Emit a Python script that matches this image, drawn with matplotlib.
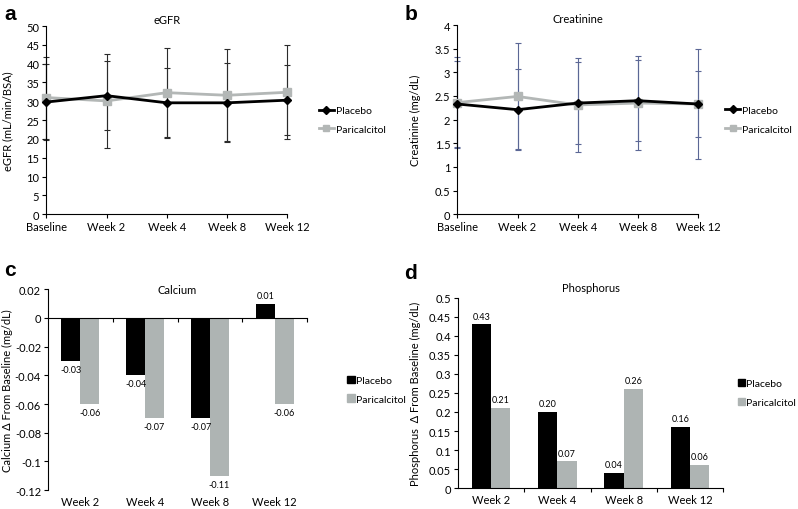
import numpy as np
from matplotlib import pyplot as plt
from matplotlib.patches import Patch
from matplotlib.lines import Line2D

plt.rcParams['font.family'] = ['Lato', 'DejaVu Sans']
plt.rcParams['font.size'] = 8

# line panels
visits = ["Baseline", "Week 2", "Week 4", "Week 8", "Week 12"]
egfr_placebo = [29.8, 31.5, 29.6, 29.6, 30.3]
egfr_placebo_err = [10.2, 9.2, 9.3, 10.5, 9.3]
egfr_pari = [31.0, 30.1, 32.3, 31.6, 32.4]
egfr_pari_err = [10.9, 12.6, 11.9, 12.2, 12.5]

creat_placebo = [2.33, 2.21, 2.35, 2.40, 2.33]
creat_placebo_err = [0.90, 0.86, 0.86, 0.85, 0.70]
creat_pari = [2.36, 2.49, 2.31, 2.35, 2.33]
creat_pari_err = [0.96, 1.12, 1.00, 1.00, 1.16]

# bar panels
weeks = ["Week 2", "Week 4", "Week 8", "Week 12"]
calcium_placebo = [-0.03, -0.04, -0.07, 0.01]
calcium_pari = [-0.06, -0.07, -0.11, -0.06]
phos_placebo = [0.43, 0.20, 0.04, 0.16]
phos_pari = [0.21, 0.07, 0.26, 0.06]

BLACK = "#000000"
GRAY = "#aeb4b3"
GRAY_LINE = "#b3b7b6"

fig = plt.figure(figsize=(7.98, 5.10), dpi=100)


def style_axes(ax):
    for s in ["top", "right"]:
        ax.spines[s].set_visible(False)
    ax.tick_params(direction="out", length=3, width=0.8, labelsize=8, pad=2)
    ax.spines["left"].set_linewidth(0.8)
    ax.spines["bottom"].set_linewidth(0.8)


def add_legend(ax, handles, x0, hl):
    ax.legend(handles, ["Placebo", "Paricalcitol"], frameon=False, fontsize=7.5,
              loc="center left", bbox_to_anchor=(x0, 0.5), handlelength=hl,
              handleheight=0.7, handletextpad=0.15, labelspacing=0.9,
              borderaxespad=0, borderpad=0)


def line_panel(rect, title, ylabel, p, pe, q, qe, ylim, yticks, ylabels, ecol, lx, ylx):
    ax = fig.add_axes(rect)
    x = np.arange(len(visits))
    ax.errorbar(x, p, yerr=pe, fmt="none", ecolor=ecol, elinewidth=0.8,
                capsize=2, capthick=0.8, zorder=2, clip_on=False)
    ax.errorbar(x, q, yerr=qe, fmt="none", ecolor=ecol, elinewidth=0.8,
                capsize=2, capthick=0.8, zorder=2, clip_on=False)
    ax.plot(x, p, color=BLACK, lw=2, marker="D", ms=4, zorder=4, clip_on=False)
    ax.plot(x, q, color=GRAY_LINE, lw=2, marker="s", ms=6, zorder=3, clip_on=False)
    ax.set_xlim(0, 4)
    ax.set_ylim(*ylim)
    ax.set_xticks(x)
    ax.set_xticklabels(visits)
    ax.set_yticks(yticks)
    ax.set_yticklabels(ylabels)
    ax.set_ylabel(ylabel, fontsize=8)
    ax.yaxis.set_label_coords(ylx, 0.5)
    ax.set_title(title, fontsize=8, pad=2)
    style_axes(ax)
    handles = [Line2D([], [], color=BLACK, lw=2, marker="D", ms=4),
               Line2D([], [], color=GRAY_LINE, lw=2, marker="s", ms=5)]
    add_legend(ax, handles, lx, 1.5)
    return ax


def bar_panel(rect, ylabel, p, q, ylim, yticks, ylabels, zero_axis, lx, ylx):
    ax = fig.add_axes(rect)
    x = np.arange(len(weeks))
    w = 0.29
    ax.bar(x - w / 2, p, width=w, color=BLACK, zorder=2)
    ax.bar(x + w / 2, q, width=w, color=GRAY, zorder=2)
    ax.set_xlim(-0.5, 3.5)
    ax.set_ylim(*ylim)
    ax.set_yticks(yticks)
    ax.set_yticklabels(ylabels)
    ax.set_ylabel(ylabel, fontsize=8)
    ax.yaxis.set_label_coords(ylx, 0.5)
    style_axes(ax)
    if zero_axis:
        ax.spines["bottom"].set_position(("data", 0))
    ax.set_xticks(np.arange(0.5, 4, 1))
    ax.set_xticklabels([])
    for i, lab in enumerate(weeks):
        ax.text(i, -0.03, lab, transform=ax.get_xaxis_transform(),
                ha="center", va="top", fontsize=8)
    span = ylim[1] - ylim[0]
    for xs, vals in [(x - w / 2, p), (x + w / 2, q)]:
        for xi, v in zip(xs, vals):
            if v >= 0:
                ax.text(xi, v + span * 0.02, f"{v:.2f}", ha="center",
                        va="bottom", fontsize=6.5)
            else:
                ax.text(xi, v - span * 0.02, f"{v:.2f}", ha="center",
                        va="top", fontsize=6.5)
    add_legend(ax, [Patch(color=BLACK), Patch(color=GRAY)], lx, 0.7)
    return ax


line_panel([0.058, 0.578, 0.302, 0.369], "eGFR", "eGFR (mL/min/BSA)",
           egfr_placebo, egfr_placebo_err, egfr_pari, egfr_pari_err,
           (0, 50), np.arange(0, 51, 5), [str(v) for v in range(0, 51, 5)],
           "#2b2b2b", 1.13, -0.135)
line_panel([0.573, 0.578, 0.302, 0.371], "Creatinine", "Creatinine (mg/dL)",
           creat_placebo, creat_placebo_err, creat_pari, creat_pari_err,
           (0, 4), np.arange(0, 4.01, 0.5),
           ["0", "0.5", "1", "1.5", "2", "2.5", "3", "3.5", "4"], "#5b6795",
           1.11, -0.15)

ax_c = bar_panel([0.060, 0.037, 0.325, 0.394], "Calcium \u0394 From Baseline (mg/dL)",
                 calcium_placebo, calcium_pari, (-0.12, 0.02),
                 np.arange(-0.12, 0.021, 0.02),
                 ["-0.12", "-0.1", "-0.08", "-0.06", "-0.04", "-0.02", "0", "0.02"],
                 True, 1.155, -0.135)
ax_c.text(0.5, 1.0, "Calcium", transform=ax_c.transAxes, ha="center", va="center", fontsize=8)

ax_d = bar_panel([0.574, 0.041, 0.332, 0.373], "Phosphorus  \u0394 From Baseline (mg/dL)",
                 phos_placebo, phos_pari, (0, 0.5),
                 np.arange(0, 0.501, 0.05),
                 ["0", "0.05", "0.1", "0.15", "0.2", "0.25", "0.3", "0.35", "0.4", "0.45", "0.5"],
                 False, 1.055, -0.14)
ax_d.set_title("Phosphorus", fontsize=8, pad=5)

for lab, (fx, fy) in zip("abcd", [(0.005, 0.971), (0.507, 0.971), (0.005, 0.469), (0.507, 0.463)]):
    fig.text(fx, fy, lab, fontsize=15, fontweight="bold", ha="left", va="center",
             family=["Liberation Sans", "DejaVu Sans"])

fig.savefig("out.png", dpi=100)
